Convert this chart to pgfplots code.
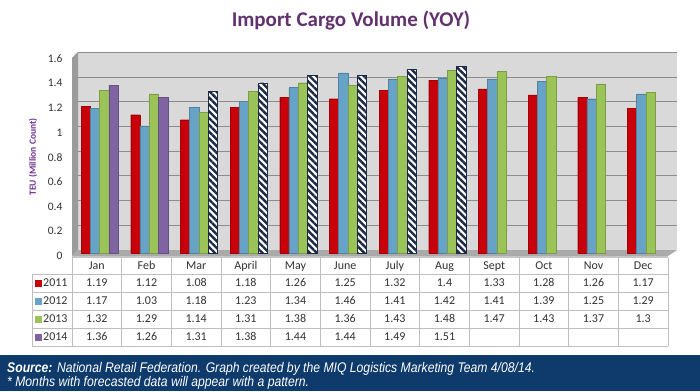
\documentclass[border=0pt]{standalone}
\usepackage{pgfplots}
\pgfplotsset{compat=1.18}
\usepackage{fontspec}
\setmainfont{Carlito}
\newfontfamily\footfont[FakeStretch=0.87]{Liberation Sans}
\usetikzlibrary{patterns.meta}
\definecolor{c11}{RGB}{200,0,10}
\definecolor{c12}{RGB}{102,163,199}
\definecolor{c13}{RGB}{155,196,88}
\definecolor{c14}{RGB}{128,100,162}
\definecolor{hatch}{RGB}{28,42,72}
\definecolor{navyband}{RGB}{14,58,108}
\definecolor{titlec}{RGB}{98,50,110}
\definecolor{ylabc}{RGB}{112,48,150}
\definecolor{wall}{RGB}{217,217,217}
\definecolor{sidewall}{RGB}{155,155,155}
\definecolor{floorc}{RGB}{170,170,170}
\definecolor{gridc}{RGB}{140,140,140}
\definecolor{tabline}{RGB}{190,190,190}
\definecolor{txt}{RGB}{50,50,50}
\newcommand\tabfont{\fontsize{12}{14}\selectfont}
\tikzset{cell/.style={font=\tabfont, text=txt, text height=8.5pt, text depth=2.5pt, inner sep=0pt}}
\begin{document}
\begin{tikzpicture}[x=1pt,y=1pt]
\path[fill=white] (0,0) rectangle (700,391);
% back wall
\fill[wall] (78,339) rectangle (677,141);
\foreach \i in {1,...,8} {\draw[gridc, line width=0.8pt] (78,{141+\i*24.7}) -- (677,{141+\i*24.7});}
% left wall
\fill[sidewall] (72,333) -- (78,339) -- (78,141) -- (72,135) -- cycle;
% floor
\fill[floorc] (72,135) -- (78,141) -- (677,141) -- (668,135) -- cycle;
\fill[gray!45] (72,133) rectangle (668,135);
\begin{axis}[at={(72pt,138pt)}, anchor=south west, width=596pt, height=197.5pt,
  scale only axis, xmin=-0.5, xmax=11.5, ymin=0, ymax=1.6,
  axis line style={draw=none}, xtick=\empty,
  ytick={0,0.2,0.4,0.6,0.8,1,1.2,1.4,1.6}, major tick length=0pt,
  /pgf/number format/assume math mode=true,
  yticklabel style={font=\fontsize{11.5}{13}\selectfont, text=txt, yshift=-3pt, xshift=-6pt},
  clip=false]
\addplot[ybar, bar width=0.187, bar shift=-0.225, fill=c11, draw=c11!80!black, line width=0.3pt] coordinates {
(0,1.19) (1,1.12) (2,1.08) (3,1.18) (4,1.26) (5,1.25) (6,1.32) (7,1.4) (8,1.33) (9,1.28) (10,1.26) (11,1.17)};
\addplot[ybar, bar width=0.187, bar shift=-0.038, fill=c12, draw=c12!80!black, line width=0.3pt] coordinates {
(0,1.17) (1,1.03) (2,1.18) (3,1.23) (4,1.34) (5,1.46) (6,1.41) (7,1.42) (8,1.41) (9,1.39) (10,1.25) (11,1.29)};
\addplot[ybar, bar width=0.187, bar shift=0.149, fill=c13, draw=c13!80!black, line width=0.3pt] coordinates {
(0,1.32) (1,1.29) (2,1.14) (3,1.31) (4,1.38) (5,1.36) (6,1.43) (7,1.48) (8,1.47) (9,1.43) (10,1.37) (11,1.3)};
\addplot[ybar, bar width=0.187, bar shift=0.336, fill=c14, draw=c14!80!black, line width=0.3pt] coordinates {
(0,1.36) (1,1.26)};
\addplot[ybar, bar width=0.187, bar shift=0.336, fill=white, draw=hatch, line width=0.3pt,
  postaction={pattern={Lines[angle=-45,distance=4.8pt,line width=2.4pt]}, pattern color=hatch}] coordinates {
(2,1.31) (3,1.38) (4,1.44) (5,1.44) (6,1.49) (7,1.51)};
\end{axis}
% title
\node[font=\fontsize{21}{24}\selectfont\bfseries, text=titlec] at (351,371) {Import Cargo Volume (YOY)};
% y label
\node[rotate=90, font=\fontsize{9.5}{11}\selectfont\bfseries, text=ylabc] at (33,234) {TEU (Million Count)};
% table lines
\foreach \k in {0,...,12} {\draw[tabline, line width=0.7pt] ({72+49.667*\k},133) -- ({72+49.667*\k},45);}
\foreach \y in {117,99,81,63,45} {\draw[tabline, line width=0.7pt] (32,\y) -- (668,\y);}
\draw[tabline, line width=0.7pt] (32,117) -- (32,45);
% header
\foreach \m [count=\k from 0] in {Jan,Feb,Mar,April,May,June,July,Aug,Sept,Oct,Nov,Dec}
  {\node[cell] at ({72+49.667*(\k+0.5)},125) {\m};}
% rows
\foreach \v [count=\k from 0] in {1.19,1.12,1.08,1.18,1.26,1.25,1.32,1.4,1.33,1.28,1.26,1.17}
  {\node[cell] at ({72+49.667*(\k+0.5)},108) {\v};}
\foreach \v [count=\k from 0] in {1.17,1.03,1.18,1.23,1.34,1.46,1.41,1.42,1.41,1.39,1.25,1.29}
  {\node[cell] at ({72+49.667*(\k+0.5)},90) {\v};}
\foreach \v [count=\k from 0] in {1.32,1.29,1.14,1.31,1.38,1.36,1.43,1.48,1.47,1.43,1.37,1.3}
  {\node[cell] at ({72+49.667*(\k+0.5)},72) {\v};}
\foreach \v [count=\k from 0] in {1.36,1.26,1.31,1.38,1.44,1.44,1.49,1.51}
  {\node[cell] at ({72+49.667*(\k+0.5)},54) {\v};}
% legend keys
\foreach \c/\yr/\y in {c11/2011/108, c12/2012/90, c13/2013/72, c14/2014/54} {
  \fill[\c] (35,{\y-3.5}) rectangle (42,{\y+3.5});
  \node[cell, anchor=west] at (43,\y) {\yr};
}
% footer
\fill[navyband] (0,0) rectangle (700,36);
\node[anchor=base west, inner sep=0pt, text=white, font=\footfont\fontsize{14}{16}\selectfont\itshape] at (7,19)
  {\textbf{Source:} National Retail Federation. Graph created by the MIQ Logistics Marketing Team 4/08/14.};
\node[anchor=base west, inner sep=0pt, text=white, font=\footfont\fontsize{14}{16}\selectfont\itshape] at (7,5)
  {* Months with forecasted data will appear with a pattern.};
\end{tikzpicture}
\end{document}
